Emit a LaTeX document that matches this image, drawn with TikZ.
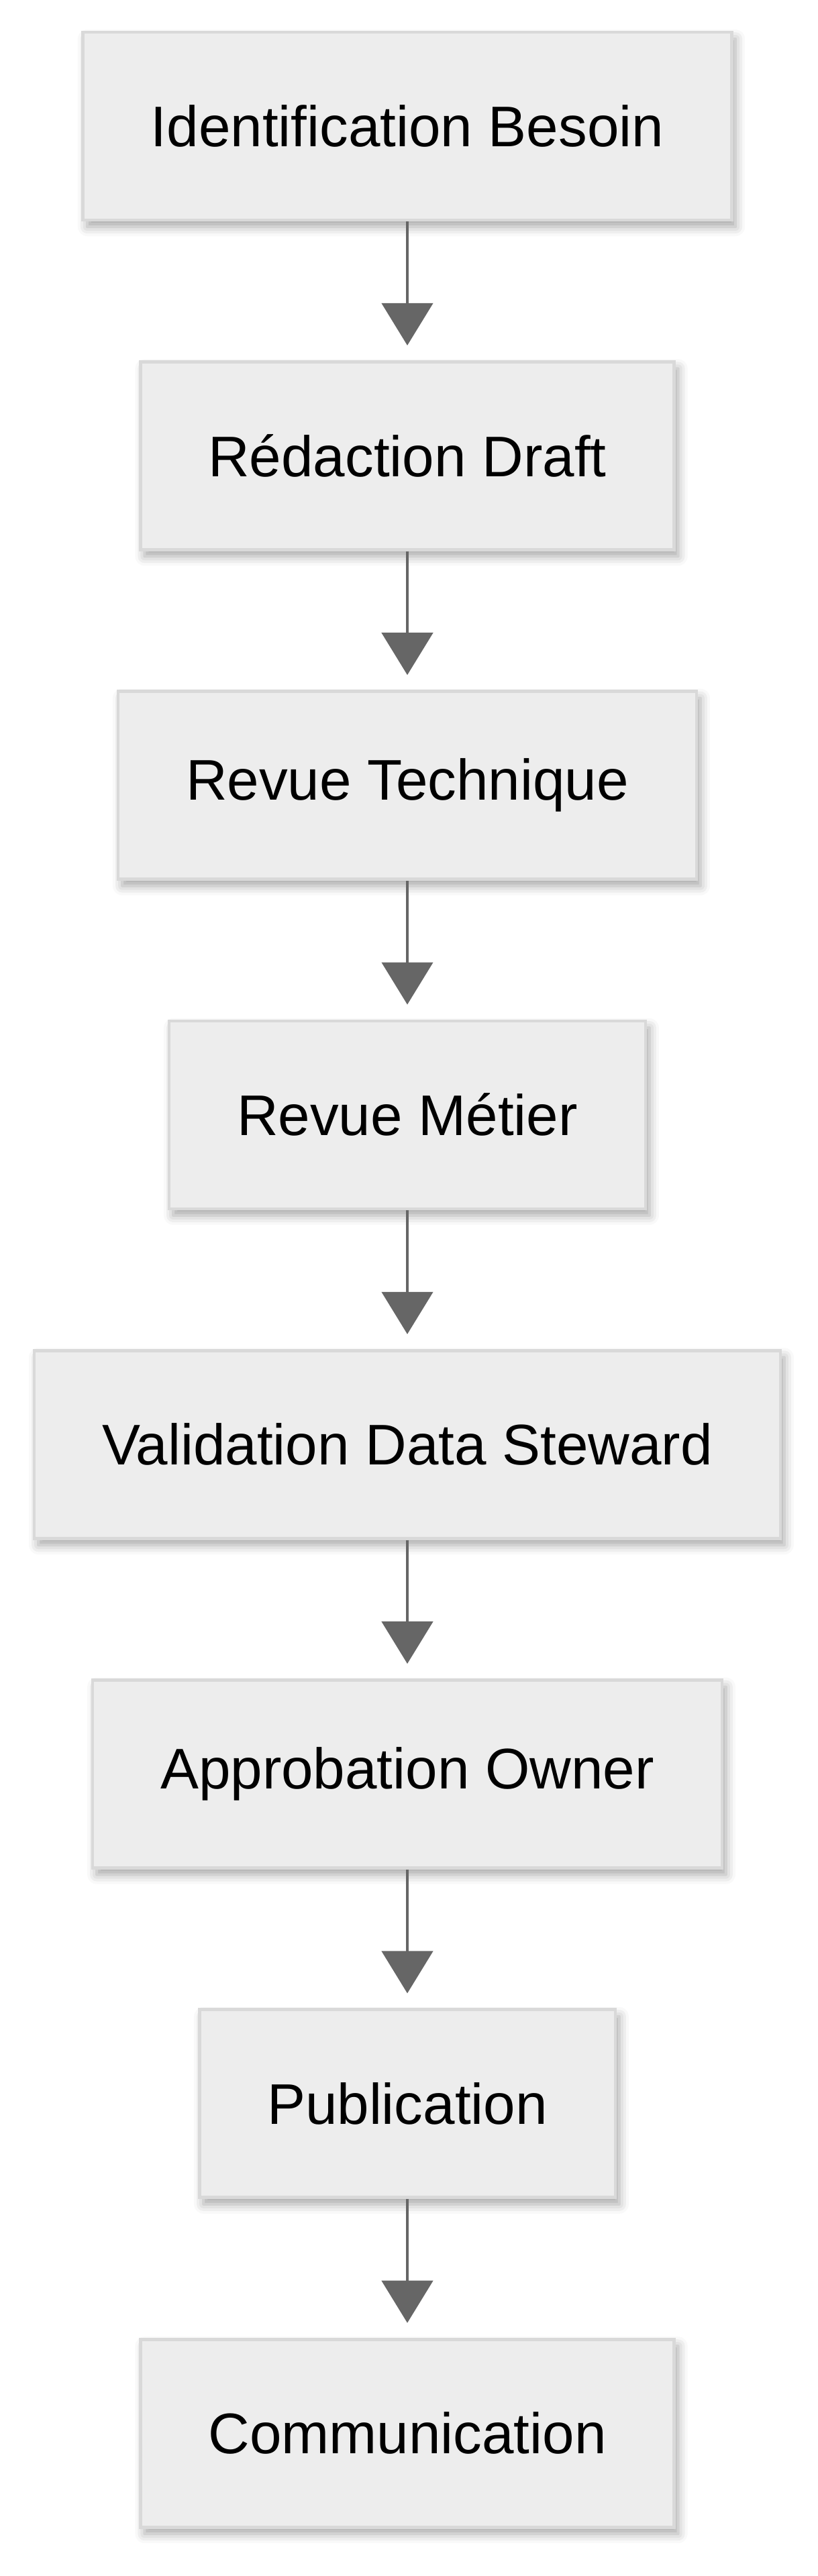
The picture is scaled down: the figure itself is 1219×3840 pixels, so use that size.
\documentclass[tikz,border=0pt]{standalone}
\usepackage{fontspec}
\setmainfont{Liberation Sans}
\usetikzlibrary{arrows.meta,shadows.blur}
\definecolor{boxfill}{HTML}{EDEDED}
\definecolor{boxline}{HTML}{D9D9D9}
\definecolor{arrowc}{HTML}{666666}
\begin{document}
\begin{tikzpicture}[x=0.5pt,y=-0.5pt,
  stepbox/.style={draw=boxline, line width=2.4pt, fill=boxfill,
    minimum height=140pt, inner xsep=50.5pt, inner ysep=0pt,
    font=\fontsize{42.7pt}{50pt}\selectfont, text=black,
    blur shadow={shadow xshift=3pt, shadow yshift=-5pt, shadow blur radius=7pt, shadow opacity=35}},
  flow/.style={draw=arrowc, line width=2.4pt,
    -{Triangle[length=31.5pt,width=38pt]}, shorten >=11pt}]
\useasboundingbox (0,0) rectangle (1219,3840);
\node[stepbox] (n1) at (607,188)    {Identification Besoin};
\node[stepbox] (n2) at (607,679.3)  {Rédaction Draft};
\node[stepbox] (n3) at (607,1170.6) {Revue Technique};
\node[stepbox] (n4) at (607,1661.9) {Revue Métier};
\node[stepbox] (n5) at (607,2153.2) {Validation Data Steward};
\node[stepbox] (n6) at (607,2644.5) {Approbation Owner};
\node[stepbox] (n7) at (607,3135.8) {Publication};
\node[stepbox] (n8) at (607,3627.1) {Communication};
\draw[flow] (n1) -- (n2);
\draw[flow] (n2) -- (n3);
\draw[flow] (n3) -- (n4);
\draw[flow] (n4) -- (n5);
\draw[flow] (n5) -- (n6);
\draw[flow] (n6) -- (n7);
\draw[flow] (n7) -- (n8);
\end{tikzpicture}
\end{document}
